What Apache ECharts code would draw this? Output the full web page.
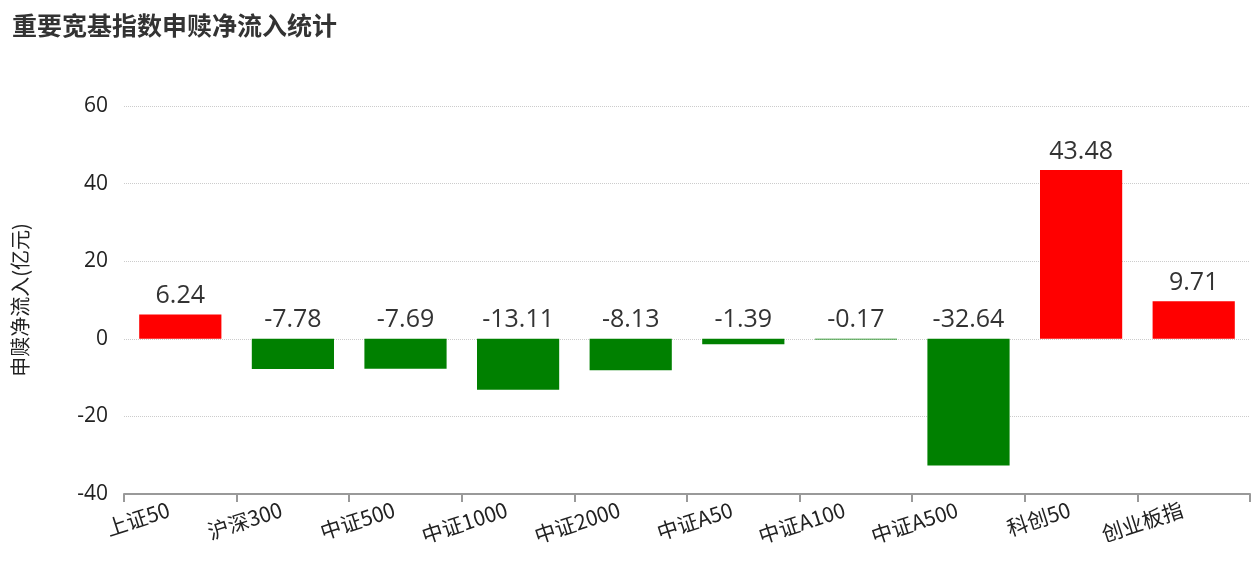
<!DOCTYPE html>
<html><head><meta charset="utf-8">
<script src="https://cdn.jsdelivr.net/npm/echarts@6/dist/echarts.min.js"></script>
<style>html,body{margin:0;padding:0;background:#fff;}#c{width:1260px;height:576px;}</style>
</head><body><div id="c"></div>
<script>
const categories = ['上证50','沪深300','中证500','中证1000','中证2000','中证A50','中证A100','中证A500','科创50','创业板指'];
const values = [6.24,-7.78,-7.69,-13.11,-8.13,-1.39,-0.17,-32.64,43.48,9.71];
const yTicks = [-40,-20,0,20,40,60];
const FONT = '"Open Sans","Noto Sans CJK SC",sans-serif';
const CJK = '"Noto Sans CJK SC",sans-serif';
const chart = echarts.init(document.getElementById('c'));
chart.setOption({
  animation:false,
  textStyle:{fontFamily:FONT},
  title:{text:'重要宽基指数申赎净流入统计',left:7,top:8,textStyle:{fontSize:25,fontWeight:'bold',color:'#333',fontFamily:CJK}},
  grid:{left:124,right:10,top:106,bottom:82},
  xAxis:{type:'category',data:categories,
    axisLine:{onZero:false,lineStyle:{color:'#999',width:2}},
    axisTick:{show:true,lineStyle:{color:'#999',width:2},length:8},
    axisLabel:{rotate:18,fontSize:21,color:'#222',margin:11,padding:[0,12,0,0],fontFamily:CJK}},
  yAxis:{type:'value',min:yTicks[0],max:yTicks[yTicks.length-1],interval:20,
    name:'申赎净流入(亿元)',nameLocation:'middle',nameGap:94,nameRotate:90,
    nameTextStyle:{fontSize:20,color:'#222',fontFamily:CJK},
    axisLine:{show:false},axisTick:{show:false},
    axisLabel:{fontSize:21,color:'#222',margin:16},
    splitLine:{lineStyle:{type:'dotted',color:'#ccc'}}},
  series:[{type:'bar',barCategoryGap:'27%',
    data:values.map(v=>({value:v,itemStyle:{color:v>=0?'#ff0000':'#008000'}})),
    label:{show:true,position:'top',fontSize:25,color:'#333',distance:6}}]
});
</script></body></html>
